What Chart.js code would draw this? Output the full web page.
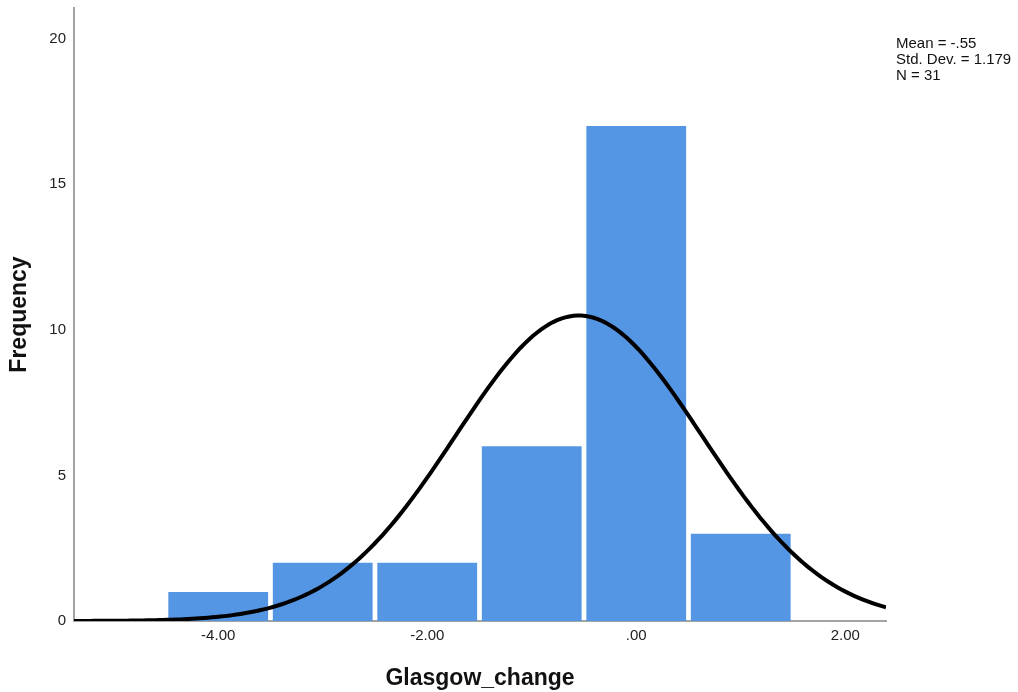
<!DOCTYPE html>
<html>
<head>
<meta charset="utf-8">
<script src="https://cdn.jsdelivr.net/npm/chart.js@4/dist/chart.umd.min.js"></script>
<style>
  html, body { margin: 0; padding: 0; background: #ffffff; }
  canvas { display: block; }
</style>
</head>
<body>
<canvas id="hist" width="1018" height="692"></canvas>
<script>
// Histogram of Glasgow_change with a fitted normal curve
const binCenters = [-4, -3, -2, -1, 0, 1];
const frequencies = [1, 2, 2, 6, 17, 3];
const xTickValues = [-4, -2, 0, 2];
const yTickValues = [0, 5, 10, 15, 20];
const statLines = ['Mean = -.55', 'Std. Dev. = 1.179', 'N = 31'];

// Summary statistics that define the fitted normal curve
const sampleMean = -0.55;
const sampleStdDev = 1.179;
const sampleN = 31;
const binWidth = 1;

const xMin = -5.38, xMax = 2.39, yMax = 21.05;

// Normal density scaled to the histogram counts (N * bin width)
function normalCount(x) {
  const z = (x - sampleMean) / sampleStdDev;
  return sampleN * binWidth / (sampleStdDev * Math.sqrt(2 * Math.PI)) * Math.exp(-0.5 * z * z);
}
const curvePoints = [];
const steps = 200;
for (let i = 0; i <= steps; i++) {
  const x = xMin + (xMax - xMin) * i / steps;
  curvePoints.push({ x: x, y: normalCount(x) });
}

const barPoints = binCenters.map((c, i) => ({ x: c, y: frequencies[i] }));

function spssNumber(v) {
  return v.toFixed(2).replace(/^(-?)0\./, '$1.');
}

const statsBox = {
  id: 'statsBox',
  afterDraw(chart) {
    const ctx = chart.ctx;
    ctx.save();
    ctx.font = '15px "Liberation Sans", Arial, sans-serif';
    ctx.fillStyle = '#111111';
    ctx.textAlign = 'left';
    ctx.textBaseline = 'middle';
    statLines.forEach((t, i) => ctx.fillText(t, 896, 44 + i * 16));
    ctx.restore();
  }
};

const axisGrey = '#a3a3a3';
const tickFont = { family: '"Liberation Sans", Arial, sans-serif', size: 15 };
const titleFont = { family: '"Liberation Sans", Arial, sans-serif', size: 23, weight: 'bold' };

new Chart(document.getElementById('hist'), {
  data: {
    datasets: [
      {
        type: 'line',
        data: curvePoints,
        borderColor: '#000000',
        borderWidth: 4,
        pointRadius: 0,
        fill: false,
        tension: 0,
        order: 0
      },
      {
        type: 'bar',
        data: barPoints,
        backgroundColor: '#5596e4',
        borderWidth: 0,
        barPercentage: 0.955,
        categoryPercentage: 1,
        order: 1
      }
    ]
  },
  options: {
    responsive: false,
    animation: false,
    devicePixelRatio: 1,
    layout: { padding: { left: 0, right: 132, top: 8, bottom: 0 } },
    plugins: {
      legend: { display: false },
      tooltip: { enabled: false }
    },
    scales: {
      x: {
        type: 'linear',
        min: xMin,
        max: xMax,
        offset: false,
        afterBuildTicks: s => { s.ticks = xTickValues.map(v => ({ value: v })); },
        afterFit: s => { s.height = 71; s.paddingLeft = 0; s.paddingRight = 0; },
        grid: { display: false, drawTicks: false, offset: false },
        border: { display: true, color: axisGrey, width: 2 },
        ticks: {
          padding: 6,
          color: '#222222',
          font: tickFont,
          maxRotation: 0,
          callback: v => spssNumber(v)
        },
        title: {
          display: true,
          text: 'Glasgow_change',
          color: '#111111',
          font: titleFont,
          padding: 0
        }
      },
      y: {
        type: 'linear',
        min: 0,
        max: yMax,
        afterBuildTicks: s => { s.ticks = yTickValues.map(v => ({ value: v })); },
        afterFit: s => { s.width = 74; s.paddingTop = 0; s.paddingBottom = 0; },
        grid: { display: false, drawTicks: false },
        border: { display: true, color: axisGrey, width: 2 },
        ticks: {
          padding: 8,
          color: '#222222',
          font: tickFont,
          callback: v => String(v)
        },
        title: {
          display: true,
          text: 'Frequency',
          color: '#111111',
          font: titleFont,
          padding: { top: 6, bottom: 0 }
        }
      }
    }
  },
  plugins: [statsBox]
});
</script>
</body>
</html>
